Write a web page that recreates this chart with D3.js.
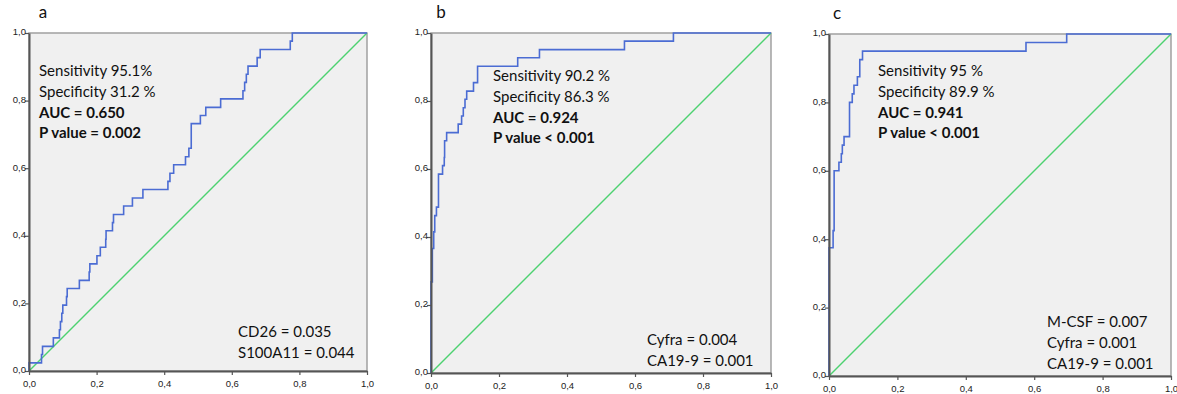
<!DOCTYPE html>
<html>
<head>
<meta charset="utf-8">
<script src="https://cdn.jsdelivr.net/npm/d3@7"></script>
<style>
  html, body { margin: 0; padding: 0; background: #ffffff; }
  svg { display: block; }
</style>
</head>
<body>
<svg id="chart" width="1177" height="394"></svg>
<script>
// ---------- data ----------
const panelLetters = ["a", "b", "c"];
const tickValues = [0, 0.2, 0.4, 0.6, 0.8, 1.0];

// ROC corner points: x = 1 - specificity where a vertical jump ends, y = sensitivity after the jump
const fprA = [0, 0, 0.037, 0.040, 0.072, 0.090, 0.093, 0.097, 0.100, 0.111, 0.113, 0.149, 0.178, 0.180, 0.201, 0.211, 0.227, 0.228, 0.247, 0.250, 0.280, 0.306, 0.337, 0.411, 0.417, 0.428, 0.463, 0.473, 0.480, 0.480, 0.480, 0.507, 0.523, 0.567, 0.633, 0.638, 0.643, 0.648, 0.675, 0.684, 0.773, 0.779, 1];
const tprA = [0, 0.024, 0.049, 0.073, 0.098, 0.122, 0.146, 0.171, 0.195, 0.220, 0.244, 0.268, 0.293, 0.317, 0.341, 0.366, 0.390, 0.415, 0.439, 0.463, 0.488, 0.512, 0.537, 0.561, 0.585, 0.610, 0.634, 0.659, 0.683, 0.707, 0.732, 0.756, 0.780, 0.805, 0.829, 0.854, 0.878, 0.902, 0.927, 0.951, 0.976, 1, 1];

const fprB = [0, 0, 0.004, 0.008, 0.011, 0.016, 0.022, 0.034, 0.039, 0.040, 0.046, 0.080, 0.090, 0.095, 0.100, 0.105, 0.125, 0.137, 0.255, 0.319, 0.569, 0.713, 1];
const tprB = [0, 0.268, 0.366, 0.415, 0.463, 0.488, 0.585, 0.610, 0.634, 0.683, 0.707, 0.732, 0.756, 0.780, 0.805, 0.829, 0.854, 0.902, 0.927, 0.951, 0.976, 1, 1];

const fprC = [0, 0, 0.012, 0.015, 0.029, 0.036, 0.039, 0.044, 0.060, 0.068, 0.073, 0.083, 0.090, 0.098, 0.576, 0.695, 1];
const tprC = [0, 0.375, 0.425, 0.600, 0.625, 0.650, 0.675, 0.700, 0.800, 0.825, 0.850, 0.875, 0.925, 0.950, 0.975, 1, 1];

const statsA = ["Sensitivity 95.1%", "Specificity 31.2 %", "AUC = 0.650", "P value = 0.002"];
const statsB = ["Sensitivity 90.2 %", "Specificity 86.3 %", "AUC = 0.924", "P value < 0.001"];
const statsC = ["Sensitivity 95 %", "Specificity 89.9 %", "AUC = 0.941", "P value < 0.001"];

const markersA = ["CD26 = 0.035", "S100A11 = 0.044"];
const markersB = ["Cyfra = 0.004", "CA19-9 = 0.001"];
const markersC = ["M-CSF = 0.007", "Cyfra = 0.001", "CA19-9 = 0.001"];

// ---------- layout ----------
const panels = [
  { letter: panelLetters[0], fpr: fprA, tpr: tprA, stats: statsA, markers: markersA,
    box: { l: 29, r: 367, t: 33, b: 371 }, letterPos: [43, 18],
    statsPos: [39, 71], markersPos: [238, 332] },
  { letter: panelLetters[1], fpr: fprB, tpr: tprB, stats: statsB, markers: markersB,
    box: { l: 431, r: 771, t: 33, b: 373 }, letterPos: [441, 18],
    statsPos: [493, 76], markersPos: [647, 340] },
  { letter: panelLetters[2], fpr: fprC, tpr: tprC, stats: statsC, markers: markersC,
    box: { l: 829, r: 1171, t: 34, b: 376 }, letterPos: [837, 19],
    statsPos: [878, 71], markersPos: [1047, 322] }
];

const svg = d3.select("#chart");
const lineGap = 20.7;
const fmt = d => d.toFixed(1).replace(".", ",");

panels.forEach(p => {
  const x = d3.scaleLinear().domain([0, 1]).range([p.box.l, p.box.r]);
  const y = d3.scaleLinear().domain([0, 1]).range([p.box.b, p.box.t]);
  const g = svg.append("g");

  // background and light frame
  g.append("rect")
    .attr("x", x(0)).attr("y", y(1))
    .attr("width", x(1) - x(0)).attr("height", y(0) - y(1))
    .attr("fill", "#f0f0f0")
    .attr("stroke", "#9a9a9a").attr("stroke-width", 1.4);

  // panel letter
  g.append("text")
    .attr("x", p.letterPos[0]).attr("y", p.letterPos[1])
    .attr("text-anchor", "middle")
    .attr("font-family", "Lato, 'Open Sans', sans-serif")
    .attr("font-size", 17).attr("fill", "#111")
    .text(p.letter);

  // reference diagonal
  g.append("line")
    .attr("x1", x(0)).attr("y1", y(0)).attr("x2", x(1)).attr("y2", y(1))
    .attr("stroke", "#4dd170").attr("stroke-width", 1.4);

  // ROC curve
  const pts = p.fpr.map((v, i) => [v, p.tpr[i]]);
  const line = d3.line().x(d => x(d[0])).y(d => y(d[1])).curve(d3.curveStepAfter);
  g.append("path")
    .attr("d", line(pts))
    .attr("fill", "none")
    .attr("stroke", "#4b6cd3").attr("stroke-width", 1.6);

  // axes
  const ax = g.append("g").attr("transform", `translate(0,${y(0)})`)
    .call(d3.axisBottom(x).tickValues(tickValues).tickFormat(fmt).tickSize(4).tickSizeOuter(0));
  const ay = g.append("g").attr("transform", `translate(${x(0)},0)`)
    .call(d3.axisLeft(y).tickValues(tickValues).tickFormat(fmt).tickSize(4).tickSizeOuter(0));
  [ax, ay].forEach(a => {
    a.select(".domain").attr("stroke", "#555").attr("stroke-width", 2);
    a.selectAll(".tick line").attr("stroke", "#555").attr("stroke-width", 1.2);
    a.selectAll(".tick text")
      .attr("font-family", "'Liberation Sans', Arial, sans-serif")
      .attr("font-size", 9.5).attr("fill", "#222");
  });
  ax.selectAll(".tick text").attr("dy", "0.9em");
  ay.selectAll(".tick text").attr("x", -3).attr("dy", "0.2em");

  // statistics text
  p.stats.forEach((s, i) => {
    g.append("text")
      .attr("x", p.statsPos[0]).attr("y", p.statsPos[1] + i * lineGap)
      .attr("dy", "0.35em")
      .attr("font-family", "Lato, 'Open Sans', sans-serif")
      .attr("font-size", 15)
      .attr("font-weight", i >= 2 ? "bold" : "normal")
      .attr("fill", "#111")
      .text(s);
  });

  // marker p-values
  p.markers.forEach((s, i) => {
    g.append("text")
      .attr("x", p.markersPos[0]).attr("y", p.markersPos[1] + i * 21)
      .attr("dy", "0.35em")
      .attr("font-family", "Lato, 'Open Sans', sans-serif")
      .attr("font-size", 15)
      .attr("fill", "#111")
      .text(s);
  });
});
</script>
</body>
</html>
